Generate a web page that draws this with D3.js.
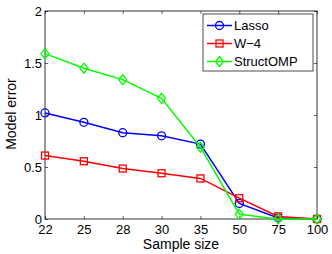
<!DOCTYPE html>
<html lang="en">
<head>
<meta charset="utf-8">
<script src="https://cdnjs.cloudflare.com/ajax/libs/d3/7.8.5/d3.min.js"></script>
<style>
  body { margin: 0; background: #fff; }
  text { font-family: "Liberation Sans", Arial, sans-serif; }
</style>
</head>
<body>
<svg id="canvas" width="332" height="254"></svg>
<script>
// data
const sampleSizes = ["22", "25", "28", "30", "35", "50", "75", "100"];
const lasso = [1.02, 0.93, 0.83, 0.80, 0.72, 0.15, 0.01, 0.0];
const w4 = [0.61, 0.555, 0.485, 0.44, 0.39, 0.20, 0.025, 0.0];
const structOMP = [1.59, 1.45, 1.34, 1.16, 0.69, 0.045, 0.0, 0.0];
const yTicks = [0, 0.5, 1, 1.5, 2];

const series = [
  { name: "Lasso", values: lasso, color: "#0000ff", marker: "circle" },
  { name: "W\u22124", values: w4, color: "#ff0000", marker: "square" },
  { name: "StructOMP", values: structOMP, color: "#00ff00", marker: "diamond" }
];

const margin = { left: 45, right: 15, top: 11, bottom: 35 };
const W = 332, H = 254;
const svg = d3.select("#canvas");

const x = d3.scalePoint().domain(sampleSizes).range([margin.left, W - margin.right]);
const y = d3.scaleLinear().domain([0, 2]).range([H - margin.bottom, margin.top]);

// axes (ticks point inward, box on all sides)
const tl = 3;
svg.append("g").attr("transform", `translate(0,${y(0)})`)
  .call(d3.axisBottom(x).tickSize(-tl).tickPadding(6))
  .call(g => g.select(".domain").remove());
svg.append("g").attr("transform", `translate(0,${y(2)})`)
  .call(d3.axisTop(x).tickSize(-tl).tickFormat(""))
  .call(g => g.select(".domain").remove());
svg.append("g").attr("transform", `translate(${x("22")},0)`)
  .call(d3.axisLeft(y).tickValues(yTicks).tickSize(-tl).tickPadding(3).tickFormat(d3.format("")))
  .call(g => g.select(".domain").remove());
svg.append("g").attr("transform", `translate(${x("100")},0)`)
  .call(d3.axisRight(y).tickValues(yTicks).tickSize(-tl).tickFormat(""))
  .call(g => g.select(".domain").remove());

svg.selectAll(".tick text").attr("font-size", 13).attr("fill", "#000");
svg.selectAll(".tick line").attr("stroke", "#000").attr("stroke-width", 0.6);

// frame
svg.append("rect")
  .attr("x", x("22")).attr("y", y(2))
  .attr("width", x("100") - x("22")).attr("height", y(0) - y(2))
  .attr("fill", "none").attr("stroke", "#000").attr("stroke-width", 0.8);

const line = d3.line().x((d, i) => x(sampleSizes[i])).y(d => y(d));

function drawMarker(g, type, cx, cy, color) {
  if (type === "circle") {
    g.append("circle").attr("cx", cx).attr("cy", cy).attr("r", 4)
      .attr("fill", "none").attr("stroke", color).attr("stroke-width", 1.3);
  } else if (type === "square") {
    g.append("rect").attr("x", cx - 3.5).attr("y", cy - 3.5).attr("width", 7).attr("height", 7)
      .attr("fill", "none").attr("stroke", color).attr("stroke-width", 1.3);
  } else {
    g.append("path").attr("d", `M${cx},${cy - 5}L${cx + 4},${cy}L${cx},${cy + 5}L${cx - 4},${cy}Z`)
      .attr("fill", "none").attr("stroke", color).attr("stroke-width", 1.3);
  }
}

series.forEach(s => {
  const g = svg.append("g");
  g.append("path").datum(s.values).attr("d", line)
    .attr("fill", "none").attr("stroke", s.color).attr("stroke-width", 1.5);
  s.values.forEach((v, i) => drawMarker(g, s.marker, x(sampleSizes[i]), y(v), s.color));
});

// legend
const lg = svg.append("g");
lg.append("rect").attr("x", 203).attr("y", 14).attr("width", 110).attr("height", 57)
  .attr("fill", "#fff").attr("stroke", "#000").attr("stroke-width", 0.7);
series.forEach((s, i) => {
  const ly = 25.5 + i * 18;
  lg.append("line").attr("x1", 207).attr("x2", 232).attr("y1", ly).attr("y2", ly)
    .attr("stroke", s.color).attr("stroke-width", 1.5);
  drawMarker(lg, s.marker, 219.5, ly, s.color);
  lg.append("text").attr("x", 234).attr("y", ly + 4.5).attr("font-size", 13).text(s.name);
});

// axis labels
svg.append("text").attr("x", (x("22") + x("100")) / 2).attr("y", 249)
  .attr("text-anchor", "middle").attr("font-size", 14).text("Sample size");
svg.append("text").attr("transform", "translate(16,114) rotate(-90)")
  .attr("text-anchor", "middle").attr("font-size", 14).text("Model error");
</script>
</body>
</html>
